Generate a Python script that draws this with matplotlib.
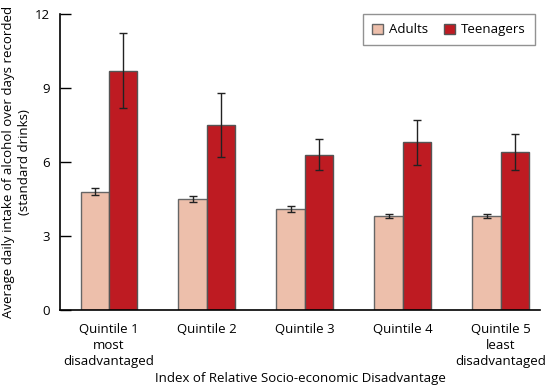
import numpy as np
import matplotlib.pyplot as plt
plt.rcParams.update({'font.size': 9.5, 'font.family': ['Open Sans', 'DejaVu Sans']})

categories = ['Quintile 1\nmost\ndisadvantaged', 'Quintile 2', 'Quintile 3',
              'Quintile 4', 'Quintile 5\nleast\ndisadvantaged']
adults = [4.8, 4.5, 4.1, 3.8, 3.8]
adults_err = [0.15, 0.13, 0.12, 0.08, 0.08]
teens = [9.7, 7.5, 6.3, 6.8, 6.4]
teens_low = [8.17, 6.22, 5.67, 5.89, 5.67]
teens_high = [11.24, 8.80, 6.93, 7.72, 7.12]

x = np.arange(len(categories))
w = 0.29
teens_yerr = [np.array(teens) - np.array(teens_low), np.array(teens_high) - np.array(teens)]

fig = plt.figure(figsize=(5.55, 3.89), dpi=100)
ax = fig.add_axes([0.108, 0.203, 0.865, 0.761])

ekw = dict(ecolor='#222222', elinewidth=1.0, capsize=3, capthick=1.0)
ax.bar(x - w / 2, adults, w, yerr=adults_err, color='#edbfab', edgecolor='#666666',
       linewidth=1.0, label='Adults', error_kw=ekw)
ax.bar(x + w / 2, teens, w, yerr=teens_yerr, color='#be1b22', edgecolor='#555555',
       linewidth=1.0, label='Teenagers', error_kw=ekw)

ax.set_xlim(-0.5, 4.4)
ax.set_ylim(0, 12)
ax.set_yticks([0, 3, 6, 9, 12])
ax.tick_params(axis='y', direction='in', length=8, width=1, pad=7)
ax.tick_params(axis='x', length=0, pad=9)
ax.set_xticks(x)
ax.set_xticklabels(categories, linespacing=1.3)
for s in ['top', 'right']:
    ax.spines[s].set_visible(False)
for s in ['left', 'bottom']:
    ax.spines[s].set_linewidth(1.2)

ax.set_ylabel('Average daily intake of alcohol over days recorded\n(standard drinks)',
              linespacing=1.25, labelpad=3)
ax.set_xlabel('Index of Relative Socio-economic Disadvantage', labelpad=3)

leg = ax.legend(loc='upper right', ncol=2, frameon=True, fancybox=False,
                edgecolor='#777777', handlelength=0.8, handleheight=0.8,
                handletextpad=0.5, columnspacing=1.2, borderpad=0.7,
                borderaxespad=0, bbox_to_anchor=(0.99, 1.0))
leg.get_frame().set_linewidth(1.0)

plt.savefig('out.png', dpi=100)
